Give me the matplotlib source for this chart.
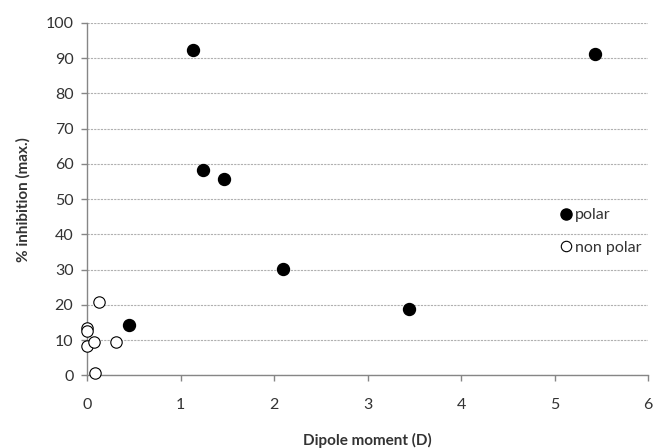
import matplotlib.pyplot as plt
from matplotlib.lines import Line2D

plt.rcParams['font.family'] = ['Lato', 'DejaVu Sans']

# polar compounds
polar_x = [0.45, 1.13, 1.24, 1.46, 2.09, 3.44, 5.43]
polar_y = [14.3, 92.3, 58.3, 55.8, 30.1, 18.9, 91.2]

# non polar compounds
nonpolar_x = [0.0, 0.0, 0.0, 0.075, 0.125, 0.307, 0.082]
nonpolar_y = [13.5, 12.6, 8.3, 9.5, 20.7, 9.5, 0.7]

x_ticks = [0, 1, 2, 3, 4, 5, 6]
y_ticks = [0, 10, 20, 30, 40, 50, 60, 70, 80, 90, 100]

axis_grey = '#868686'
text_grey = '#333333'

fig = plt.figure(figsize=(6.54, 4.48), dpi=100)
ax = fig.add_axes([0.1335, 0.162, 0.8575, 0.7867])

ax.plot(polar_x, polar_y, 'o', color='black', markersize=8.6,
        linestyle='none', zorder=3)
ax.plot(nonpolar_x, nonpolar_y, 'o', markerfacecolor='white',
        markeredgecolor='black', markeredgewidth=0.8, markersize=8.2,
        linestyle='none', zorder=3, clip_on=False)

ax.set_xlim(0, 6)
ax.set_ylim(0, 100)
ax.set_xticks(x_ticks)
ax.set_yticks(y_ticks)

ax.yaxis.grid(True, color='#b0b0b0', linestyle=(0, (2, 1)), linewidth=0.8)
ax.set_axisbelow(True)

for s in ['top', 'right']:
    ax.spines[s].set_visible(False)
for s in ['left', 'bottom']:
    ax.spines[s].set_color(axis_grey)
    ax.spines[s].set_linewidth(1.0)

ax.tick_params(axis='x', direction='out', length=4, width=1, color=axis_grey,
               labelsize=11.5, labelcolor=text_grey, pad=12)
ax.tick_params(axis='y', direction='out', length=4, width=1, color=axis_grey,
               labelsize=11.5, labelcolor=text_grey, pad=6)

ax.set_xlabel('Dipole moment (D)', fontsize=11, fontweight='bold',
              color=text_grey, labelpad=15)
ax.set_ylabel('% inhibition (max.)', fontsize=11, fontweight='bold',
              color=text_grey, labelpad=11)

handles = [
    Line2D([], [], marker='o', color='black', linestyle='none', markersize=8),
    Line2D([], [], marker='o', markerfacecolor='white', markeredgecolor='black',
           markeredgewidth=0.8, linestyle='none', markersize=7.5),
]
ax.legend(handles, ['polar', 'non polar'], loc='upper left',
          bbox_to_anchor=(0.842, 0.475), frameon=False, fontsize=11.5,
          handlelength=0.8, handletextpad=0.15, labelspacing=1.15,
          borderpad=0, borderaxespad=0, labelcolor=text_grey)

fig.savefig('out.png', dpi=100)
